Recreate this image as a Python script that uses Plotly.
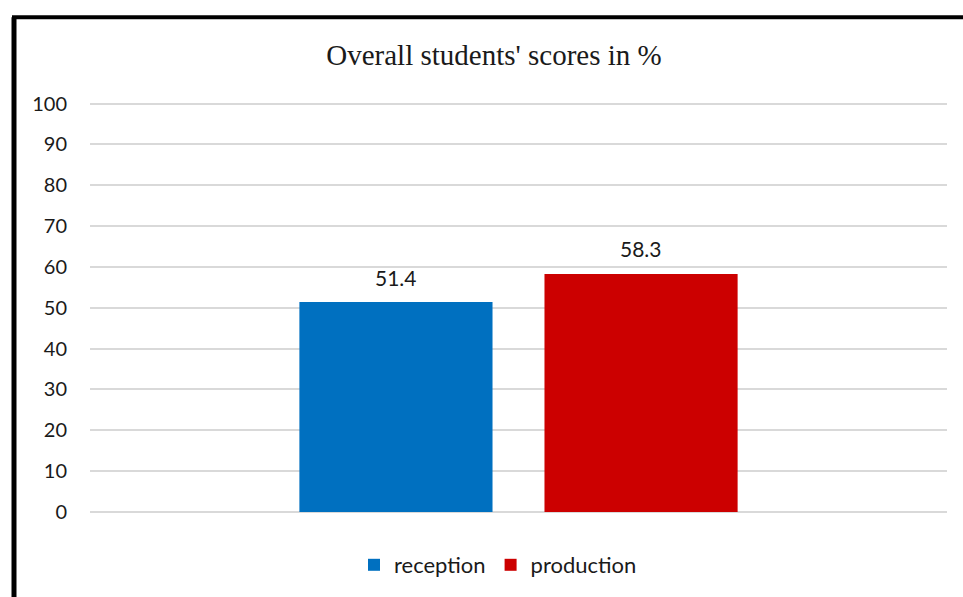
import plotly.graph_objects as go

# ---- data ----
categories = ["Overall"]
series_names = ["reception", "production"]
series_values = [[51.4], [58.3]]
series_colors = ["#0070C0", "#CC0000"]
title_text = "Overall students' scores in %"
y_ticks = [0, 10, 20, 30, 40, 50, 60, 70, 80, 90, 100]

W, H = 963, 597
ML, MR, MT, MB = 90, 16, 102, 84
BARGAP = 0.428
BARGROUPGAP = 0.212

fig = go.Figure()
for name, vals, col in zip(series_names, series_values, series_colors):
    fig.add_trace(go.Bar(x=categories, y=vals, name=name, marker_color=col,
                         marker_line_width=0))

# data labels placed above bars (centers from group layout)
n = len(series_names)
group_w = 1 - BARGAP
slot = group_w / n
for i, vals in enumerate(series_values):
    for j, v in enumerate(vals):
        xc = j - group_w / 2 + slot * (i + 0.5)
        fig.add_annotation(x=xc, y=v, xref="x", yref="y", text=f"{v}",
                           showarrow=False, yanchor="middle", yshift=25,
                           font=dict(family="Lato", size=21, color="#1a1a1a"))

pw = W - ML - MR
ph = H - MT - MB
def px_x(p):
    return (p - ML) / pw
def px_y(p):
    return (H - MB - p) / ph

# outer chart border (left and top visible)
fig.add_shape(type="line", xref="paper", yref="paper",
              x0=px_x(14), x1=px_x(14), y0=px_y(17), y1=px_y(H + 10),
              line=dict(color="black", width=5))
fig.add_shape(type="line", xref="paper", yref="paper",
              x0=px_x(12), x1=px_x(W + 10), y0=px_y(17), y1=px_y(17),
              line=dict(color="black", width=4))

fig.update_layout(
    width=W, height=H,
    margin=dict(l=ML, r=MR, t=MT, b=MB),
    paper_bgcolor="white", plot_bgcolor="white",
    barmode="group", bargap=BARGAP, bargroupgap=BARGROUPGAP,
    title=dict(text=title_text, x=px_x(494), xref="paper", xanchor="center",
               y=1 - 55 / H, yanchor="middle",
               font=dict(family="Liberation Serif", size=29, color="#1a1a1a")),
    showlegend=True,
    legend=dict(orientation="h", x=px_x(498), xanchor="center",
                y=px_y(565), yanchor="middle",
                font=dict(family="Lato", size=22, color="#1a1a1a"),
                itemwidth=30, traceorder="normal"),
    xaxis=dict(showticklabels=False, showgrid=False, zeroline=False,
               showline=False, ticks=""),
    yaxis=dict(range=[0, 100.4], tickvals=y_ticks, showgrid=True,
               gridcolor="#d9d9d9", gridwidth=1.5, zeroline=True,
               zerolinecolor="#d9d9d9", zerolinewidth=1.5, showline=False,
               ticks="", ticklabelstandoff=22,
               tickfont=dict(family="Lato", size=20, color="#1a1a1a")),
)

fig.write_html("out.html")
